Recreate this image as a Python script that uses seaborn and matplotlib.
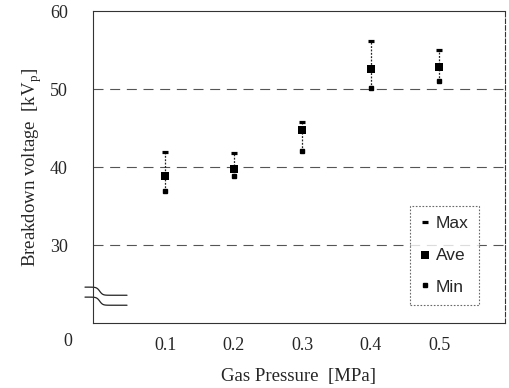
import matplotlib
matplotlib.use("Agg")
import matplotlib.pyplot as plt
import numpy as np
import pandas as pd
import seaborn as sns

# data
pressure = [0.1, 0.2, 0.3, 0.4, 0.5]
v_max = [41.9, 41.8, 45.8, 56.2, 55.0]
v_ave = [38.9, 39.7, 44.8, 52.6, 52.8]
v_min = [36.9, 38.9, 42.1, 50.1, 51.0]

sns.set_style("white")
plt.rcParams["font.family"] = ["Liberation Serif", "DejaVu Serif"]

df = pd.DataFrame({"p": pressure, "max": v_max, "ave": v_ave, "min": v_min})

fig = plt.figure(figsize=(5.1, 3.88), dpi=100)
ax = fig.add_axes([0.182, 0.1675, 0.808, 0.804])

for y in (30, 40, 50):
    ax.axhline(y, color="#555555", linewidth=0.8, linestyle=(0, (9, 6)), zorder=0)

ax.vlines(df["p"], df["min"], df["max"], colors="#222222", linewidth=0.9,
          linestyles=(0, (1.5, 1.2)), zorder=2)

ax.plot(df["p"], df["max"], linestyle="none", marker="_", markersize=4.5,
        markeredgewidth=2.3, color="black", label="Max", zorder=3)
sns.scatterplot(data=df, x="p", y="ave", marker="s", s=38, color="black",
                edgecolor="black", linewidth=0, ax=ax, label="Ave", zorder=4)
ax.plot(df["p"], df["min"], linestyle="none", marker="s", markersize=2.3,
        color="black", label="Min", zorder=3)

ax.set_xlim(-0.006, 0.596)
ax.set_ylim(20, 60)
ax.set_xticks([0.1, 0.2, 0.3, 0.4, 0.5])
ax.set_xticklabels(["0.1", "0.2", "0.3", "0.4", "0.5"])
ax.set_yticks([30, 40, 50, 60])
ax.tick_params(axis="both", labelsize=13, length=0)
ax.tick_params(axis="x", pad=10)
ax.tick_params(axis="y", pad=18)
ax.text(-0.06, -0.06, "0", transform=ax.transAxes, fontsize=13,
        ha="center", va="center")

ax.set_xlabel("Gas Pressure  [MPa]", fontsize=13.5, labelpad=10)
ax.set_ylabel("Breakdown voltage  [kV$_\\mathregular{p}$]", fontsize=13.5, labelpad=4)

for side in ["left", "right", "top", "bottom"]:
    ax.spines[side].set_color("#333333")
    ax.spines[side].set_linewidth(0.8)
ax.spines["left"].set_linestyle((0, (2, 1)))
ax.spines["right"].set_linestyle((0, (4, 2)))

# axis break symbol
t = np.linspace(0, 1, 60)
bx = -0.019 + t * 0.102
step = 0.5 * (1 + np.tanh((t - 0.35) * 14))
for y0 in (0.115, 0.083):
    ax.plot(bx, y0 - 0.026 * step, color="#222222", linewidth=0.9,
            transform=ax.transAxes, clip_on=False)

leg = ax.legend(loc="lower left", bbox_to_anchor=(0.769, 0.058), frameon=True,
                prop={"family": "Liberation Sans", "size": 12.5},
                labelspacing=0.95, handlelength=0.6, handletextpad=0.3,
                borderpad=0.6, borderaxespad=0, fancybox=False)
leg.get_frame().set_edgecolor("#444444")
leg.get_frame().set_linewidth(0.8)
leg.get_frame().set_linestyle((0, (1.5, 1.5)))

fig.savefig("out.png", dpi=100, facecolor="white")
